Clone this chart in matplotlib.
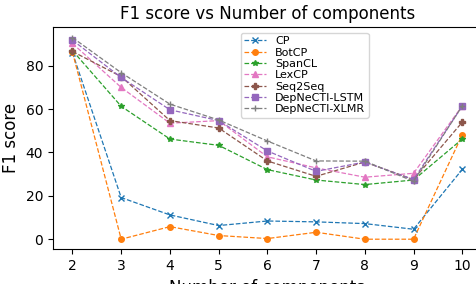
import matplotlib
matplotlib.use("Agg")
import matplotlib.pyplot as plt

components = [2, 3, 4, 5, 6, 7, 8, 9, 10]

cp = [86, 19.2, 11.2, 6.3, 8.4, 8.0, 7.2, 4.6, 32.2]
botcp = [86.3, 0, 5.8, 1.7, 0.3, 3.2, 0, 0, 48.2]
spancl = [87, 61.3, 46.2, 43.3, 32.1, 27.3, 25.2, 27.3, 46.2]
lexcp = [90.3, 70.0, 53.5, 54.7, 38.0, 32.9, 28.6, 30.4, 61.5]
seq2seq = [86.6, 75.0, 54.7, 51.3, 36.1, 29.0, 35.6, 27.5, 54.0]
dep_lstm = [91.8, 74.6, 59.7, 54.7, 40.7, 31.3, 35.6, 27.5, 61.4]
dep_xlmr = [93.0, 76.8, 62.3, 55.0, 45.3, 36.1, 36.0, 26.7, 61.5]

series = [
    ("CP", cp, "tab:blue", "x"),
    ("BotCP", botcp, "tab:orange", "o"),
    ("SpanCL", spancl, "tab:green", "*"),
    ("LexCP", lexcp, "tab:pink", "^"),
    ("Seq2Seq", seq2seq, "tab:brown", "P"),
    ("DepNeCTI-LSTM", dep_lstm, "tab:purple", "s"),
    ("DepNeCTI-XLMR", dep_xlmr, "tab:gray", "+"),
]

fig = plt.figure(figsize=(4.76, 2.84), dpi=100)
ax = fig.add_axes([0.1113, 0.1222, 0.9008, 0.781])

for name, vals, color, marker in series:
    ax.plot(components, vals, linestyle="--", marker=marker, color=color,
            linewidth=0.9, markersize=4, label=name)

ax.set_xticks(components)
ax.tick_params(labelsize=10)
ax.set_title("F1 score vs Number of components", fontsize=12)
ax.set_xlabel("Number of components", fontsize=12)
ax.set_ylabel("F1 score", fontsize=12)
ax.legend(loc="upper center", bbox_to_anchor=(0.587, 1.0), fontsize=8,
          labelspacing=0.12, borderpad=0.3, handletextpad=0.8)

fig.savefig("out.png", dpi=100)
